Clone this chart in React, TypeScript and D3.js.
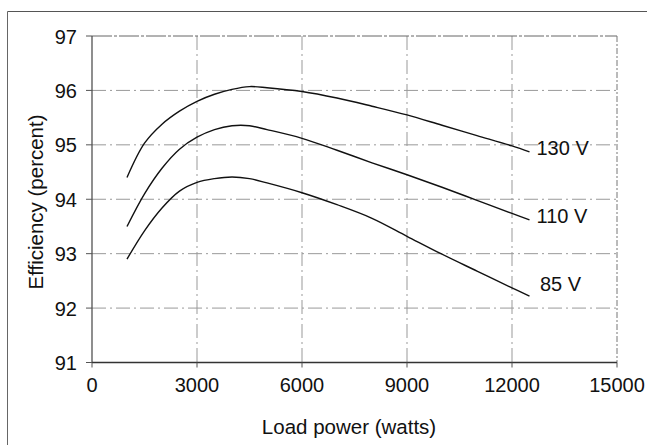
import React from "react";
import * as d3 from "d3";

const loads = [1000, 1500, 2000, 2500, 3000, 3500, 4000, 4500, 5000, 6000, 7000, 8000, 9000, 10000, 11000, 12000, 12500];
const eff130 = [94.4, 95.03, 95.38, 95.62, 95.8, 95.93, 96.02, 96.07, 96.05, 95.98, 95.86, 95.71, 95.55, 95.36, 95.17, 94.98, 94.87];
const eff110 = [93.5, 94.1, 94.57, 94.92, 95.14, 95.28, 95.35, 95.35, 95.28, 95.12, 94.9, 94.67, 94.45, 94.22, 93.98, 93.74, 93.62];
const eff85 = [92.9, 93.42, 93.84, 94.15, 94.31, 94.38, 94.41, 94.38, 94.3, 94.12, 93.9, 93.65, 93.32, 92.99, 92.68, 92.37, 92.22];

const seriesNames = ["130 V", "110 V", "85 V"];
const seriesValues = [eff130, eff110, eff85];
const labelX = [12700, 12700, 12800];
const labelY = [94.81, 93.56, 92.32];

const xTicks = [0, 3000, 6000, 9000, 12000, 15000];
const yTicks = [91, 92, 93, 94, 95, 96, 97];
const xTitle = "Load power (watts)";
const yTitle = "Efficiency (percent)";

const W = 647;
const H = 445;
const FONT = "'Liberation Sans', Arial, sans-serif";

export default function App() {
  const x = d3.scaleLinear().domain([0, 15000]).range([92, 617]);
  const y = d3.scaleLinear().domain([91, 97]).range([362.5, 36]);
  const line = d3
    .line<number>()
    .x((_, i) => x(loads[i]))
    .y((d) => y(d))
    .curve(d3.curveCatmullRom.alpha(0.5));

  const x0 = x(0), x1 = x(15000), y0 = y(91), y1 = y(97);
  const gridStyle = { stroke: "#999", strokeWidth: 1, strokeDasharray: "14 4 2 4" };

  return (
    <svg
      width={W}
      height={H}
      style={{ position: "absolute", left: 0, top: 0, background: "#fff" }}
      fontFamily={FONT}
    >
      <rect x={0} y={0} width={W} height={H} fill="#fff" />
      {/* outer frame */}
      <line x1={7.5} y1={11.5} x2={W} y2={11.5} stroke="#555" strokeWidth={1.2} />
      <line x1={7.5} y1={11.5} x2={7.5} y2={H} stroke="#666" strokeWidth={1} />

      {/* gridlines */}
      {xTicks.slice(1, -1).map((t) => (
        <line key={"gx" + t} x1={x(t)} x2={x(t)} y1={y1} y2={y0} {...gridStyle} />
      ))}
      {yTicks.slice(1, -1).map((t) => (
        <line key={"gy" + t} x1={x0} x2={x1} y1={y(t)} y2={y(t)} {...gridStyle} />
      ))}

      {/* plot frame */}
      <line x1={x0} x2={x1} y1={y1} y2={y1} stroke="#666" strokeWidth={1} strokeDasharray="20 2 3 2" />
      <line x1={x1} x2={x1} y1={y1} y2={y0} stroke="#777" strokeWidth={1} strokeDasharray="6 2 2 2" />
      <line x1={x0} x2={x0} y1={y1} y2={y0} stroke="#444" strokeWidth={1.2} />
      <line x1={x0} x2={x1} y1={y0} y2={y0} stroke="#333" strokeWidth={1.3} />

      {/* ticks */}
      {yTicks.map((t) => (
        <line key={"ty" + t} x1={x0 - 6} x2={x0} y1={y(t)} y2={y(t)} stroke="#555" strokeWidth={1} />
      ))}
      {xTicks.map((t) => (
        <line key={"tx" + t} x1={x(t)} x2={x(t)} y1={y0} y2={y0 + 5} stroke="#555" strokeWidth={1} />
      ))}

      {/* tick labels */}
      {yTicks.map((t) => (
        <text key={"ly" + t} x={77} y={y(t) + 7.5} textAnchor="end" fontSize={20} fill="#111">
          {t}
        </text>
      ))}
      {xTicks.map((t) => (
        <text key={"lx" + t} x={x(t)} y={392} textAnchor="middle" fontSize={20} fill="#111">
          {t}
        </text>
      ))}

      {/* curves */}
      {seriesValues.map((vals, i) => (
        <path key={"s" + i} d={line(vals) || ""} fill="none" stroke="#111" strokeWidth={1.4} />
      ))}
      {seriesNames.map((n, i) => (
        <text key={"n" + i} x={x(labelX[i])} y={y(labelY[i])} fontSize={20} fill="#111">
          {n}
        </text>
      ))}

      {/* axis titles */}
      <text x={349} y={434} textAnchor="middle" fontSize={20.5} fill="#111">
        {xTitle}
      </text>
      <text
        transform={`translate(43,202) rotate(-90)`}
        textAnchor="middle"
        fontSize={20.5}
        fill="#111"
      >
        {yTitle}
      </text>
    </svg>
  );
}
